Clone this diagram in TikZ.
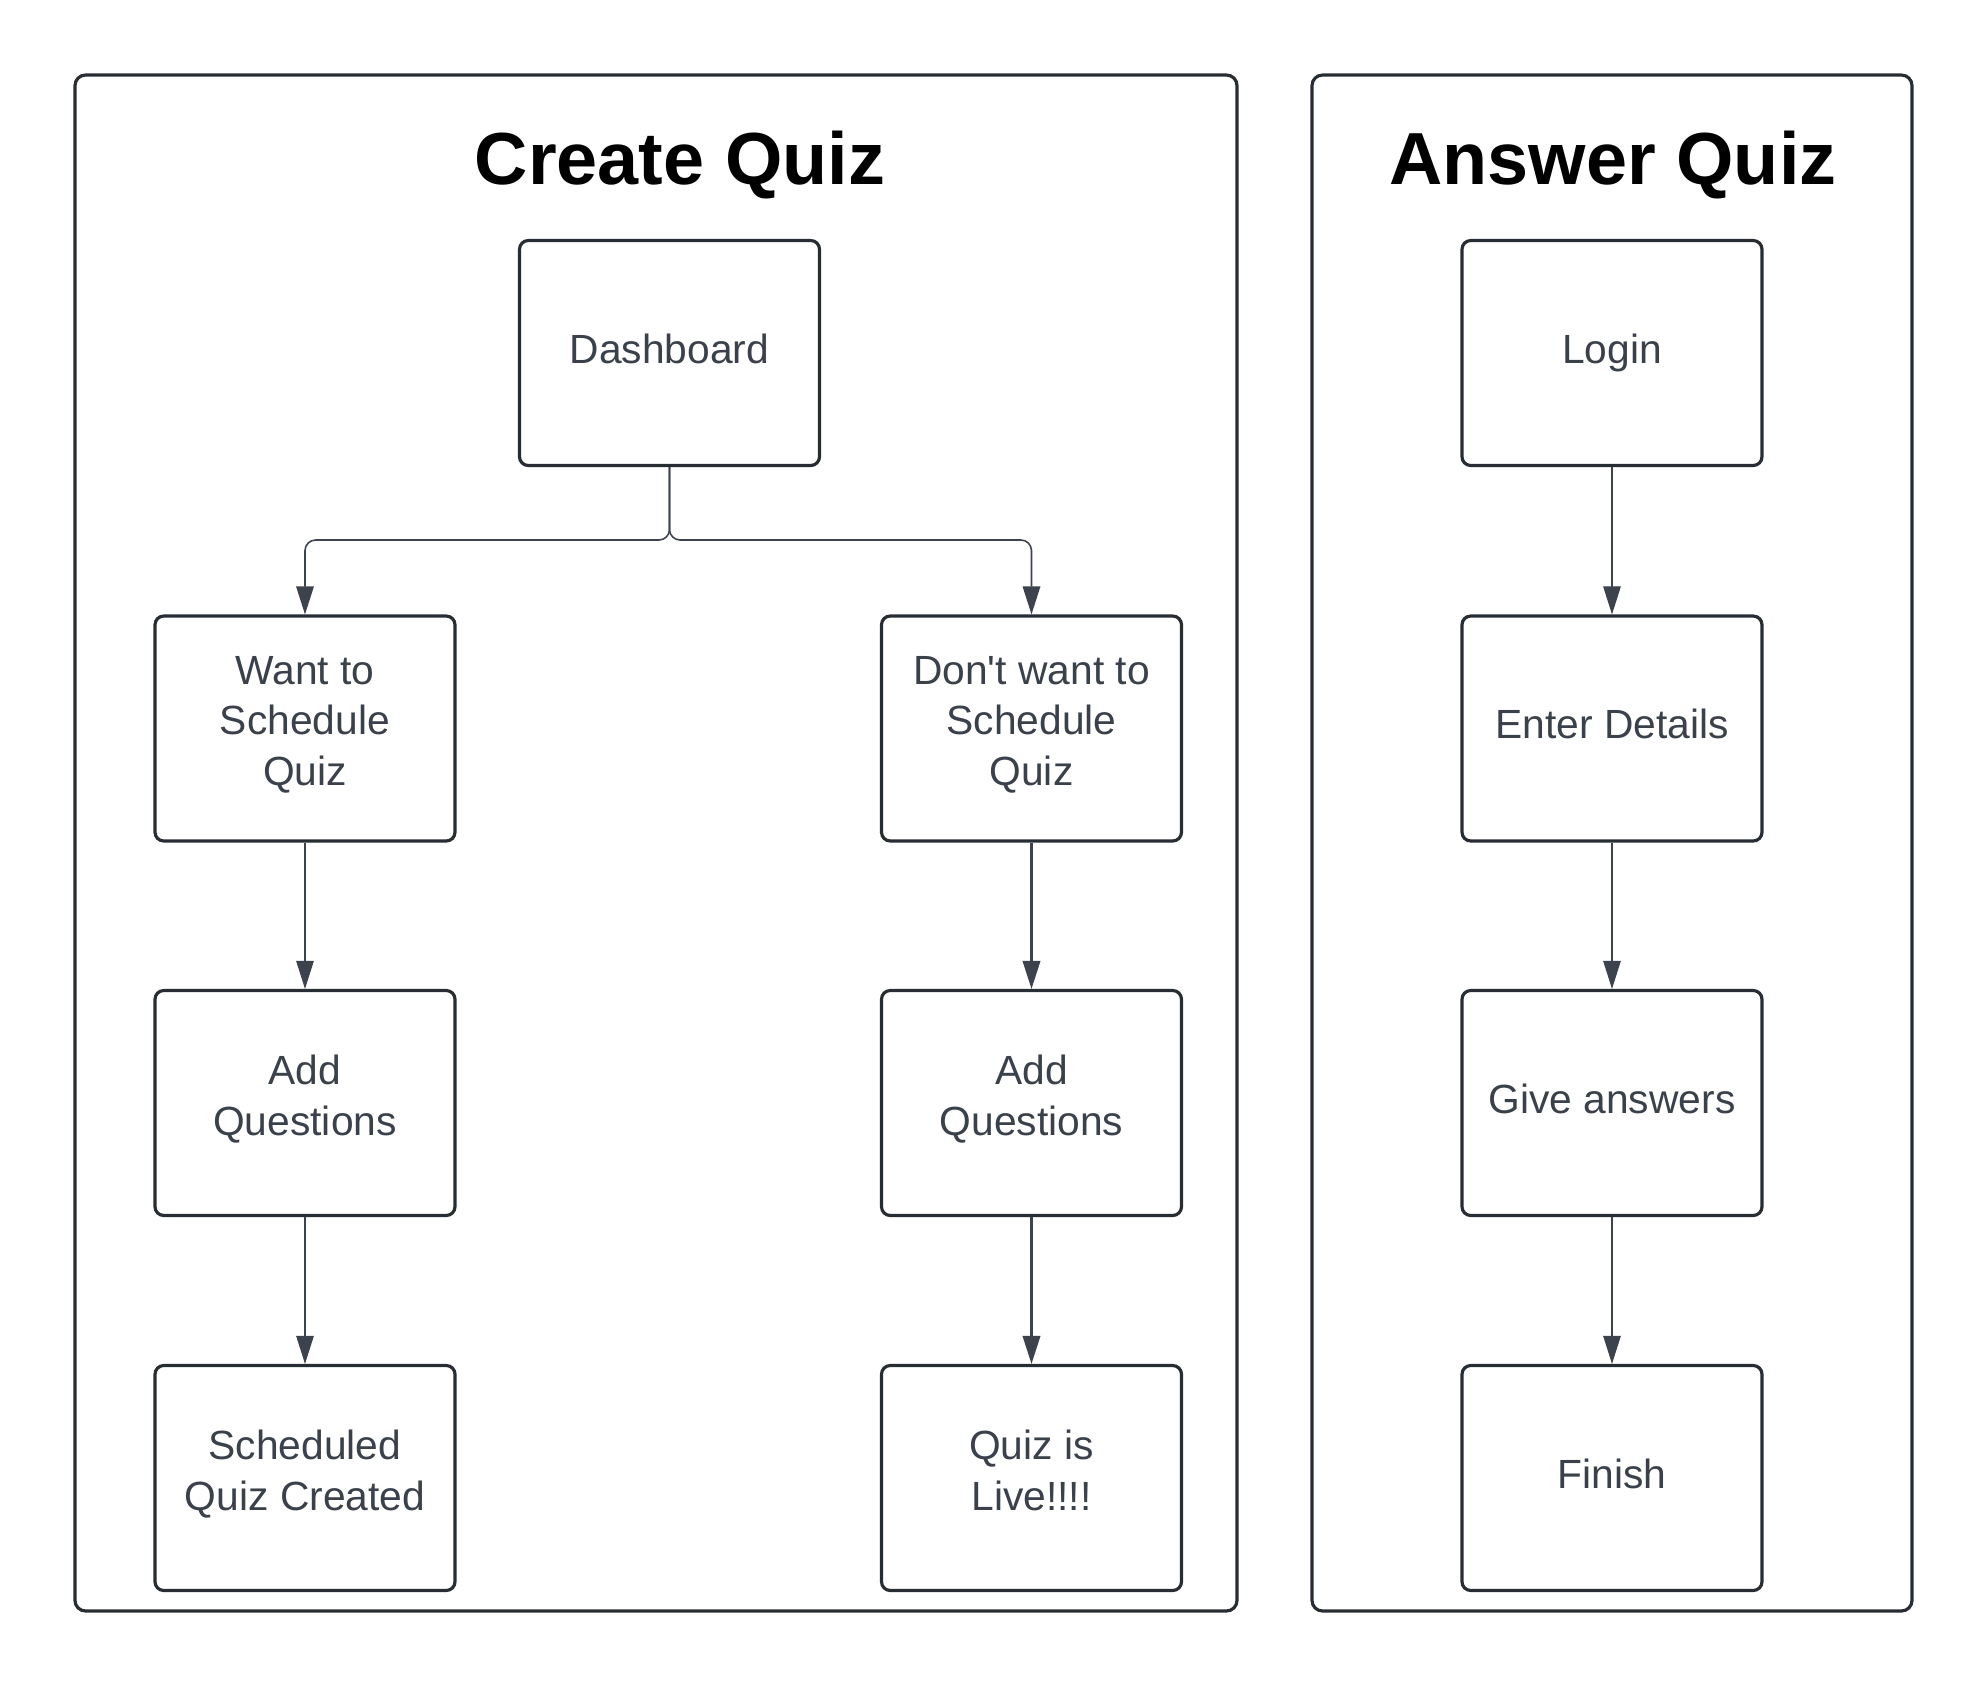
\documentclass[tikz,border=0pt]{standalone}
\usepackage{fontspec}
\setmainfont{Liberation Sans}
\usetikzlibrary{arrows.meta,positioning}
\definecolor{edgegray}{HTML}{282C33}
\definecolor{textgray}{HTML}{3A414A}
\definecolor{linegray}{HTML}{3D434D}
\tikzset{
    panel/.style={draw=edgegray,line width=0.9pt,rounded corners=3pt},
    stepbox/.style={draw=edgegray,line width=0.9pt,rounded corners=2.5pt,minimum width=3cm,minimum height=2.25cm,align=center,text=textgray,font=\fontsize{11.6}{14.4}\selectfont,inner sep=0pt,execute at begin node=\strut,execute at end node=\strut},
    title/.style={font=\bfseries\fontsize{21}{25}\selectfont,text=black},
    flow/.style={draw=linegray,line width=0.3pt,-{Triangle[width=5pt,length=8pt]}},
    flowthick/.style={flow,line width=0.6pt}
}

\begin{document}
\begin{tikzpicture}[x=1cm,y=-1cm]
        \useasboundingbox (0,0) rectangle (19.88,16.88);
        \draw[panel] (0.75,0.75) rectangle (12.37,16.11);
        \draw[panel] (13.12,0.75) rectangle (19.12,16.11);
        \node[title] (ct) at (6.80,1.65) {Create Quiz};
        \node[title] (at) at (16.13,1.65) {Answer Quiz};
        \node[stepbox] (dash) at (6.695,3.53) {Dashboard};
        \node[stepbox] (want) at (3.05,7.285) {Want to\\Schedule\\Quiz};
        \node[stepbox] (dont) at (10.315,7.285) {Don\textquotesingle t want to\\Schedule\\Quiz};
        \node[stepbox] (addl) at (3.05,11.03) {Add\\Questions};
        \node[stepbox] (addr) at (10.315,11.03) {Add\\Questions};
        \node[stepbox] (sched) at (3.05,14.78) {Scheduled\\Quiz Created};
        \node[stepbox] (live) at (10.315,14.78) {Quiz is\\Live!!!!};
        \node[stepbox] (login) at (16.12,3.53) {Login};
        \node[stepbox] (enter) at (16.12,7.285) {Enter Details};
        \node[stepbox] (give) at (16.12,11.03) {Give answers};
        \node[stepbox] (finish) at (16.12,14.78) {Finish};
        \draw[flow,line width=0.45pt,rounded corners=3pt] (dash.south) |- (5,5.40) -| (want.north);
        \draw[flow,line width=0.45pt,rounded corners=3pt] (dash.south) |- (8,5.40) -| (dont.north);
        \draw[flow] (want) -- (addl);
        \draw[flow] (addl) -- (sched);
        \draw[flowthick] (dont) -- (addr);
        \draw[flowthick] (addr) -- (live);
        \draw[flow] (login) -- (enter);
        \draw[flow] (enter) -- (give);
        \draw[flow] (give) -- (finish);
\end{tikzpicture}
\end{document}
